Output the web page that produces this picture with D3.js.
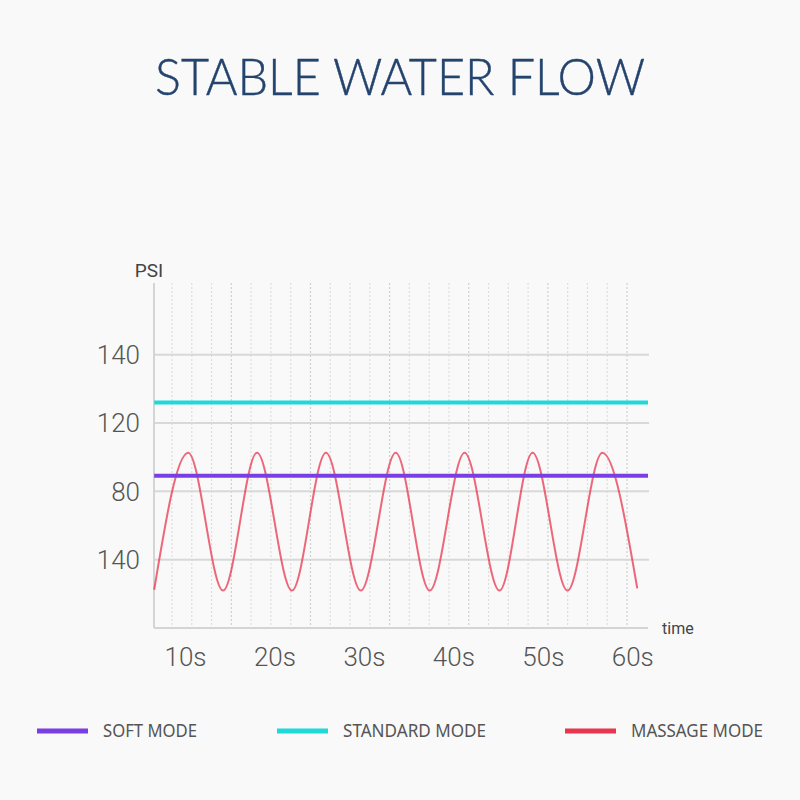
<!DOCTYPE html>
<html>
<head>
<meta charset="utf-8">
<script src="https://cdn.jsdelivr.net/npm/d3@7"></script>
<style>
  html, body { margin: 0; padding: 0; background: #f9f9f9; }
  svg { display: block; }
</style>
</head>
<body>
<div id="canvas"></div>
<script>
// values
const titleText = 'STABLE WATER FLOW';
const xTickValues = [10, 20, 30, 40, 50, 60];
const xTickLabels = ['10s', '20s', '30s', '40s', '50s', '60s'];
const yTickValues = [140, 120, 100, 80];
const yTickLabels = ['140', '120', '80', '140'];   // as printed on the chart
const gridCount = 24;                                // dotted vertical guides

const softMode = [{ t: 6.5, v: 104.6 }, { t: 61.7, v: 104.6 }];
const standardMode = [{ t: 6.5, v: 126 }, { t: 61.7, v: 126 }];
const massageMode = [
    { t: 6.5, v: 71.2 }, { t: 10.3, v: 111.3 }, { t: 14.2, v: 71 },
    { t: 18.0, v: 111.3 }, { t: 21.9, v: 71 }, { t: 25.7, v: 111.3 },
    { t: 29.6, v: 71 }, { t: 33.5, v: 111.3 }, { t: 37.3, v: 71 },
    { t: 41.2, v: 111.3 }, { t: 45.1, v: 71 }, { t: 48.8, v: 111.3 },
    { t: 52.7, v: 71 }, { t: 56.6, v: 111.3 }, { t: 60.5, v: 71.6 }
];

const legendItems = [
    { name: 'SOFT MODE', color: '#7a3fe4' },
    { name: 'STANDARD MODE', color: '#1fd9d9' },
    { name: 'MASSAGE MODE', color: '#e8364f' }
];

/* Layout */
const width = 800, height = 800;
const plot = { left: 154, right: 648, top: 283, bottom: 628 };

const svg = d3.select('#canvas').append('svg')
    .attr('width', width)
    .attr('height', height);

svg.append('rect').attr('width', width).attr('height', height).attr('fill', '#f9f9f9');

const x = d3.scaleLinear().domain([6.48, 61.7]).range([plot.left, plot.right]);
const y = d3.scaleLinear().domain([60, 161]).range([plot.bottom, plot.top]);
const gx = d3.scaleLinear().domain([0, gridCount - 1]).range([172, 627]);

/* Title */
svg.append('text')
    .attr('x', 400)
    .attr('y', 95)
    .attr('text-anchor', 'middle')
    .attr('font-family', 'Lato, "Open Sans", sans-serif')
    .attr('font-weight', 300)
    .attr('font-size', 51)
    .attr('fill', '#24446e')
    .attr('stroke', '#24446e')
    .attr('stroke-width', 0.4)
    .attr('textLength', 490)
    .attr('lengthAdjust', 'spacingAndGlyphs')
    .text(titleText);

/* Dotted vertical guides */
svg.append('g')
    .selectAll('line')
    .data(d3.range(gridCount))
    .join('line')
    .attr('x1', d => gx(d))
    .attr('x2', d => gx(d))
    .attr('y1', plot.top)
    .attr('y2', plot.bottom)
    .attr('stroke', d => d % 4 === 3 ? '#cfcfcf' : '#dedede')
    .attr('stroke-width', 1.2)
    .attr('stroke-dasharray', '2,2');

/* Horizontal grid */
svg.append('g')
    .selectAll('line')
    .data(yTickValues)
    .join('line')
    .attr('x1', plot.left)
    .attr('x2', 649)
    .attr('y1', d => y(d))
    .attr('y2', d => y(d))
    .attr('stroke', '#d8d8d8')
    .attr('stroke-width', 2);

/* Axes */
svg.append('line')
    .attr('x1', plot.left).attr('x2', plot.left)
    .attr('y1', plot.top).attr('y2', plot.bottom)
    .attr('stroke', '#d4d4d4').attr('stroke-width', 2);

svg.append('line')
    .attr('x1', plot.left).attr('x2', plot.right)
    .attr('y1', plot.bottom).attr('y2', plot.bottom)
    .attr('stroke', '#d4d4d4').attr('stroke-width', 2);

const labelFont = 'Roboto, "Noto Sans", sans-serif';

svg.append('g')
    .selectAll('text')
    .data(yTickValues)
    .join('text')
    .attr('x', 140)
    .attr('y', d => y(d))
    .attr('dy', '0.36em')
    .attr('text-anchor', 'end')
    .attr('font-family', labelFont)
    .attr('font-weight', 300)
    .attr('font-size', 26)
    .attr('fill', '#555')
    .text((d, i) => yTickLabels[i]);

svg.append('g')
    .selectAll('text')
    .data(xTickValues)
    .join('text')
    .attr('x', d => x(d))
    .attr('y', 666)
    .attr('text-anchor', 'middle')
    .attr('font-family', labelFont)
    .attr('font-weight', 300)
    .attr('font-size', 26)
    .attr('fill', '#555')
    .text((d, i) => xTickLabels[i]);

svg.append('text')
    .attr('x', 149).attr('y', 277)
    .attr('text-anchor', 'middle')
    .attr('font-family', labelFont)
    .attr('font-size', 19)
    .attr('fill', '#444')
    .text('PSI');

svg.append('text')
    .attr('x', 662).attr('y', 634)
    .attr('font-family', labelFont)
    .attr('font-size', 16)
    .attr('fill', '#444')
    .text('time');

/* Series */
const line = d3.line().x(d => x(d.t)).y(d => y(d.v));

svg.append('path')
    .datum(massageMode)
    .attr('d', line.curve(d3.curveMonotoneX))
    .attr('fill', 'none')
    .attr('stroke', '#e8364f')
    .attr('stroke-opacity', 0.75)
    .attr('stroke-width', 2);

const flat = d3.line().x(d => x(d.t)).y(d => y(d.v));

svg.append('path')
    .datum(standardMode)
    .attr('d', flat)
    .attr('fill', 'none')
    .attr('stroke', '#1fd9d9')
    .attr('stroke-width', 4);

svg.append('path')
    .datum(softMode)
    .attr('d', flat)
    .attr('fill', 'none')
    .attr('stroke', '#7a3fe4')
    .attr('stroke-width', 4);

/* Legend */
const legendX = [37, 277, 565];
const legendTextW = [94, 143, 132];

const legend = svg.append('g')
    .selectAll('g')
    .data(legendItems)
    .join('g')
    .attr('transform', (d, i) => `translate(${legendX[i]},731)`);

legend.append('line')
    .attr('x1', 0).attr('x2', 51)
    .attr('stroke', d => d.color)
    .attr('stroke-width', 5);

legend.append('text')
    .attr('x', 66)
    .attr('dy', '0.36em')
    .attr('font-family', '"Noto Sans", "Open Sans", sans-serif')
    .attr('font-size', 18)
    .attr('fill', '#555')
    .attr('textLength', (d, i) => legendTextW[i])
    .attr('lengthAdjust', 'spacingAndGlyphs')
    .text(d => d.name);
</script>
</body>
</html>
